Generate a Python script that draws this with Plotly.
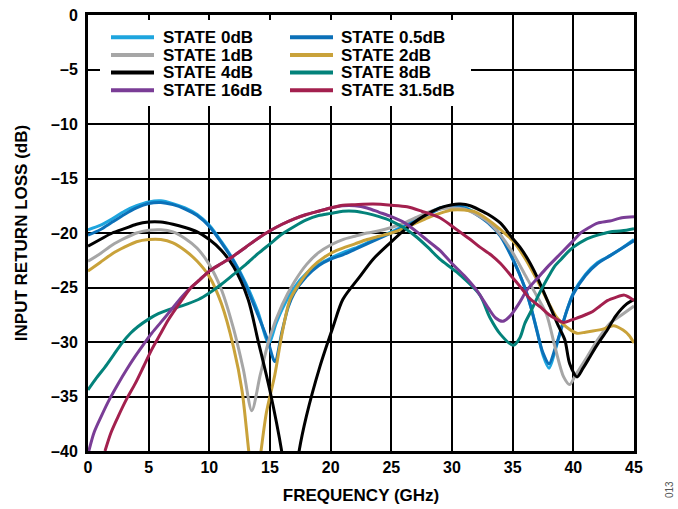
import plotly.graph_objects as go

# ---------------- data ----------------
f_0dB = [0, 1, 2, 3, 4, 5, 6, 7, 8, 9, 10, 11, 12, 13, 14, 14.9, 15.5, 16, 17, 18, 19, 20, 21, 22, 23, 24, 25, 26, 27, 28, 29, 30, 31, 32, 33, 34, 35, 36, 36.5, 37, 37.5, 38, 38.5, 39, 39.5, 40, 41, 42, 43, 44, 45]
rl_0dB = [-19.7, -19.3, -18.7, -18.0, -17.5, -17.15, -17.05, -17.3, -17.7, -18.3, -19.3, -20.8, -22.5, -24.6, -27.2, -30.1, -28.3, -27.0, -25.0, -23.7, -22.9, -22.3, -21.8, -21.4, -20.9, -20.4, -19.9, -19.4, -18.8, -18.2, -17.7, -17.5, -17.6, -18.2, -19.0, -20.2, -22.3, -25.0, -26.8, -28.9, -31.2, -32.4, -30.8, -28.8, -27.0, -25.5, -23.8, -22.7, -22.1, -21.4, -20.6]

f_05dB = [0, 1, 2, 3, 4, 5, 6, 7, 8, 9, 10, 11, 12, 13, 14, 14.8, 15.4, 16, 16.5, 17, 18, 19, 20, 21, 22, 23, 24, 25, 26, 27, 28, 29, 30, 31, 32, 33, 34, 35, 36, 36.5, 37, 37.5, 38, 38.5, 39, 39.5, 40, 41, 42, 43, 44, 45]
rl_05dB = [-20.2, -19.7, -19.0, -18.3, -17.7, -17.3, -17.2, -17.4, -17.8, -18.4, -19.4, -20.9, -22.6, -24.8, -27.5, -29.8, -31.8, -29.0, -26.8, -25.5, -24.0, -23.0, -22.4, -22.0, -21.5, -21.0, -20.5, -20.0, -19.5, -18.9, -18.3, -17.8, -17.5, -17.7, -18.3, -19.1, -20.3, -22.4, -25.0, -26.8, -29.0, -31.0, -32.0, -30.6, -28.8, -27.0, -25.6, -23.9, -22.8, -22.1, -21.4, -20.7]

f_1dB = [0, 1, 2, 3, 4, 5, 6, 7, 8, 9, 10, 11, 12, 12.8, 13.5, 14.2, 15, 16, 17, 18, 19, 20, 21, 22, 23, 24, 25, 26, 27, 28, 29, 30, 31, 32, 33, 34, 35, 36, 37, 37.8, 38.5, 39.2, 39.7, 40.2, 41, 42, 43, 44, 45]
rl_1dB = [-22.6, -21.9, -21.1, -20.5, -20.0, -19.75, -19.7, -19.9, -20.5, -21.4, -22.9, -25.2, -28.8, -32.5, -36.3, -33.0, -29.5, -26.6, -24.5, -22.9, -21.8, -21.1, -20.6, -20.3, -20.0, -19.8, -19.5, -19.1, -18.6, -18.1, -17.8, -17.7, -17.8, -18.3, -19.0, -20.2, -21.8, -23.8, -25.8, -27.5, -30.5, -33.2, -33.9, -33.0, -31.6, -29.8, -28.3, -27.5, -26.7]

f_2dB = [0, 1, 2, 3, 4, 5, 6, 7, 8, 9, 10, 11, 12, 12.7, 13.3, 13.75, 14.2, 14.7, 15.4, 16, 16.65, 17.5, 18.5, 19.5, 20.5, 22, 23, 24, 25, 26, 27, 28, 29, 30, 31, 32, 33, 34, 35, 36, 37, 38, 38.6, 39.4, 40.3, 41, 41.6, 42.5, 43.3, 44.1, 44.6, 45]
rl_2dB = [-23.5, -22.7, -21.9, -21.3, -20.8, -20.6, -20.6, -20.9, -21.6, -22.6, -24.0, -26.5, -30.5, -34.5, -40.5, -44.0, -40.5, -36.5, -33.0, -29.2, -26.1, -24.5, -23.1, -22.2, -21.6, -21.0, -20.6, -20.3, -20.0, -19.6, -19.1, -18.6, -18.2, -17.9, -17.9, -18.1, -18.8, -19.7, -20.7, -22.3, -24.3, -26.5, -27.7, -28.6, -29.2, -29.1, -29.0, -28.8, -28.5, -28.9, -29.4, -30.1]

f_4dB = [0, 1, 2, 3, 4, 5, 6, 7, 8, 9, 10, 11, 12, 13.2, 14, 15, 15.96, 16.7, 17.4, 18.0, 19.1, 20.2, 21, 22.4, 23.5, 24.9, 26, 27.6, 29, 30, 30.7, 31.5, 32.3, 33, 34, 35, 35.6, 36.3, 37, 38.1, 38.8, 39.3, 39.7, 40.3, 40.8, 41.4, 42, 42.8, 43.5, 44.4, 45]
rl_4dB = [-21.2, -20.6, -20.0, -19.6, -19.2, -19.0, -19.0, -19.2, -19.5, -19.9, -20.6, -21.6, -23.1, -26.1, -29.8, -34.5, -40.0, -46.0, -40.0, -36.8, -32.3, -28.6, -26.1, -24.0, -22.4, -20.9, -19.8, -18.5, -17.7, -17.4, -17.35, -17.5, -17.9, -18.3, -19.1, -20.5, -21.3, -22.5, -24.0, -26.8, -28.6, -29.8, -32.0, -33.2, -32.4, -31.3, -30.2, -28.9, -27.6, -26.5, -26.1]

f_8dB = [0, 0.7, 1.4, 2.1, 2.8, 3.5, 4.1, 5, 5.8, 6.6, 7.4, 8.2, 9.1, 10, 11, 12, 13, 14, 15, 16, 17, 18, 19, 20, 21, 22, 23, 24, 25, 26, 27, 28, 29, 30.4, 32.3, 33.1, 34, 35.05, 35.6, 36, 36.5, 37, 37.5, 38, 38.5, 39, 39.5, 40, 41, 42, 43, 44, 45]
rl_8dB = [-34.4, -33.3, -32.3, -31.2, -30.1, -29.2, -28.6, -27.9, -27.4, -27.05, -26.8, -26.5, -26.1, -25.5, -24.7, -23.8, -22.9, -21.9, -21.0, -20.1, -19.4, -18.8, -18.4, -18.2, -18.0, -18.0, -18.2, -18.5, -18.9, -19.5, -20.3, -21.3, -22.4, -23.6, -25.7, -27.7, -29.3, -30.3, -29.6, -28.3, -27.2, -26.0, -24.9, -23.9, -23.0, -22.4, -21.8, -21.3, -20.6, -20.2, -19.9, -19.8, -19.6]

f_16dB = [0, 0.5, 1.1, 1.8, 2.5, 3.2, 3.9, 4.6, 5.25, 6, 6.6, 7.4, 8.3, 9.2, 10, 11, 12, 13, 14, 15, 16, 17, 18, 19, 20, 21, 22, 23, 24, 25, 26, 27, 28, 29, 30, 31, 32, 33, 33.6, 34.2, 34.8, 35.5, 36.2, 37, 37.8, 38.5, 39.2, 40, 40.6, 41.3, 42, 43, 44, 45]
rl_16dB = [-40.3, -38.3, -36.8, -35.2, -33.8, -32.5, -31.3, -30.2, -29.2, -28.2, -27.4, -26.3, -25.2, -24.3, -23.5, -22.8, -22.1, -21.3, -20.5, -19.8, -19.2, -18.7, -18.3, -18.0, -17.7, -17.5, -17.5, -17.7, -18.1, -18.5, -19.0, -19.8, -20.7, -21.6, -22.8, -23.9, -25.2, -26.9, -27.8, -28.1, -27.6, -26.5, -25.2, -24.2, -23.2, -22.4, -21.6, -20.7, -20.0, -19.5, -19.1, -18.9, -18.6, -18.5]

f_315dB = [1.4, 1.9, 2.5, 3.2, 3.9, 4.6, 5.25, 6, 6.6, 7.7, 8.5, 9.2, 10, 11, 12, 13, 14, 15, 16, 17, 18, 19, 20, 21, 22, 23.5, 25, 26.3, 27.5, 29, 30.4, 31.4, 32.3, 33.2, 34, 35, 35.6, 36.4, 37.3, 38, 38.6, 39.2, 39.8, 40.3, 41, 41.6, 42.2, 42.8, 43.5, 44.2, 44.6, 45]
rl_315dB = [-40.0, -38.3, -36.8, -35.2, -33.8, -32.2, -30.7, -29.2, -28.0, -26.2, -25.0, -24.3, -23.5, -22.8, -22.1, -21.3, -20.5, -19.8, -19.2, -18.7, -18.3, -18.0, -17.7, -17.45, -17.4, -17.35, -17.45, -17.6, -18.0, -18.6, -19.7, -20.5, -21.3, -22.0, -22.8, -24.1, -24.9, -26.0, -26.8, -27.5, -27.9, -28.2, -28.0, -27.8, -27.5, -27.2, -26.7, -26.2, -25.9, -25.7, -25.9, -26.2]

series_names = ["STATE 0dB", "STATE 0.5dB", "STATE 1dB", "STATE 2dB",
                "STATE 4dB", "STATE 8dB", "STATE 16dB", "STATE 31.5dB"]
series_x = [f_0dB, f_05dB, f_1dB, f_2dB, f_4dB, f_8dB, f_16dB, f_315dB]
series_y = [rl_0dB, rl_05dB, rl_1dB, rl_2dB, rl_4dB, rl_8dB, rl_16dB, rl_315dB]
series_colors = ["#1EA5DE", "#0B70B8", "#A6A6A6", "#C9A23A",
                 "#000000", "#03827A", "#7A3D96", "#A3204E"]

x_ticks = [0, 5, 10, 15, 20, 25, 30, 35, 40, 45]
y_ticks = [0, -5, -10, -15, -20, -25, -30, -35, -40]
y_ticktext = ["0" if v == 0 else "\u2013" + str(-v) for v in y_ticks]

# ---------------- figure ----------------
W, H = 678, 509
ML, MR, MT, MB = 88, 44, 15, 58
PW, PH = W - ML - MR, H - MT - MB
FONT = "Liberation Sans, Arial, Helvetica, sans-serif"


def px2paper(px, py):
    return (px - ML) / PW, 1 - (py - MT) / PH


fig = go.Figure()
for name, xs, ys, col in zip(series_names, series_x, series_y, series_colors):
    fig.add_trace(go.Scatter(x=xs, y=ys, mode="lines", name=name,
                             line=dict(color=col, width=3, shape="spline", smoothing=0.8),
                             showlegend=False))

shapes = []
annotations = []
# white legend box
bx0, by0 = px2paper(100, 20)
bx1, by1 = px2paper(471, 106)
shapes.append(dict(type="rect", xref="paper", yref="paper", x0=bx0, x1=bx1, y0=by1, y1=by0,
                   fillcolor="white", line=dict(width=0), layer="above"))
# manual two-column legend
col_line_x = [(111, 154), (290, 333)]
col_text_x = [162, 340]
row_y = [37.3, 55.0, 72.6, 90.2]
for i, (name, col) in enumerate(zip(series_names, series_colors)):
    c, r = i % 2, i // 2
    lx0, ly = px2paper(col_line_x[c][0], row_y[r])
    lx1, _ = px2paper(col_line_x[c][1], row_y[r])
    shapes.append(dict(type="line", xref="paper", yref="paper", x0=lx0, x1=lx1, y0=ly, y1=ly,
                       line=dict(color=col, width=4), layer="above"))
    tx, ty = px2paper(col_text_x[c], row_y[r])
    annotations.append(dict(x=tx, y=ty, xref="paper", yref="paper", text=name, showarrow=False,
                            xanchor="left", yanchor="middle", borderpad=0,
                            font=dict(family=FONT, size=17, color="black", weight="bold")))

sx, sy = px2paper(669, 490)
annotations.append(dict(x=sx, y=sy, xref="paper", yref="paper", text="013", showarrow=False,
                        textangle=-90, xanchor="center", yanchor="middle",
                        font=dict(family=FONT, size=10, color="#555555")))

fig.update_layout(
    width=W, height=H,
    margin=dict(l=ML, r=MR, t=MT, b=MB, autoexpand=False),
    paper_bgcolor="white", plot_bgcolor="white",
    font=dict(family=FONT, color="black"),
    shapes=shapes, annotations=annotations,
    showlegend=False,
)
fig.update_xaxes(range=[0, 45], tickvals=x_ticks, ticktext=[str(v) for v in x_ticks],
                 showgrid=True, gridcolor="black", gridwidth=2, zeroline=False,
                 showline=True, linecolor="black", linewidth=3, mirror=True, ticks="",
                 tickfont=dict(family=FONT, size=16, color="black", weight="bold"),
                 title=dict(text="FREQUENCY (GHz)", standoff=14,
                            font=dict(family=FONT, size=17, color="black", weight="bold")))
fig.update_yaxes(range=[-40, 0], tickvals=y_ticks, ticktext=y_ticktext,
                 showgrid=True, gridcolor="black", gridwidth=2, zeroline=False,
                 showline=True, linecolor="black", linewidth=3, mirror=True, ticks="",
                 ticklabelstandoff=4,
                 tickfont=dict(family=FONT, size=16, color="black", weight="bold"),
                 title=dict(text="INPUT RETURN LOSS (dB)", standoff=20,
                            font=dict(family=FONT, size=17, color="black", weight="bold")))

fig.write_html("out.html", config={"displayModeBar": False},
               post_script="document.body.style.margin='0px';")
